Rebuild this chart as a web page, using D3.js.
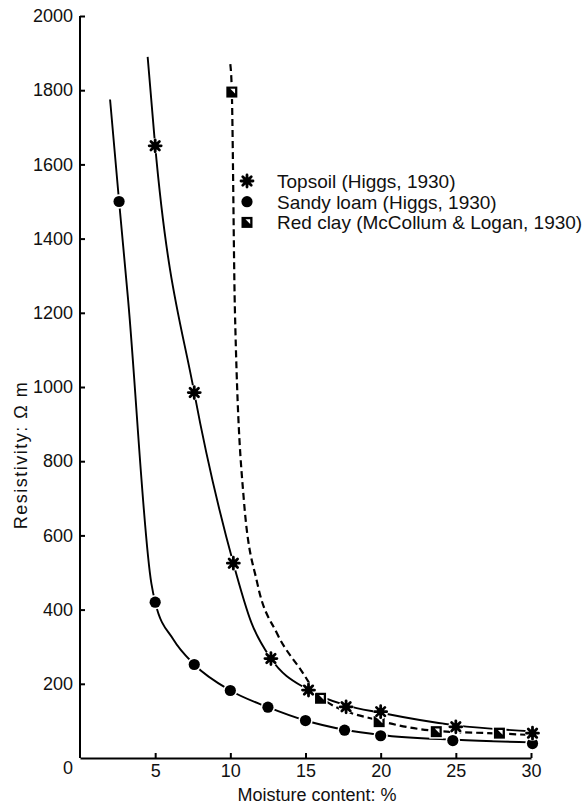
<!DOCTYPE html>
<html>
<head>
<meta charset="utf-8">
<script src="https://cdn.jsdelivr.net/npm/d3@7"></script>
<style>
  html, body { margin: 0; padding: 0; background: #fff; }
  svg { display: block; font-family: "Liberation Sans", Arial, Helvetica, sans-serif; }
</style>
</head>
<body>
<svg id="chart" width="586" height="805"></svg>
<script>
// Measured points: [moisture %, resistivity Ω m]
const topsoil   = [[5,1650],[7.6,985],[10.2,525],[12.7,268],[15.2,183],[17.7,138],[20,125],[25,84],[30.1,67]];
const sandyLoam = [[2.6,1500],[5,420],[7.6,252],[10,182],[12.5,137],[15,101],[17.6,75],[20,60],[24.8,47],[30.1,39]];
const redClay   = [[10.1,1795],[16,161],[19.9,98],[23.7,71],[27.9,67]];

// Fitted curves drawn through the measurements (knots as plotted)
const topsoilCurve   = [[4.5,1890],[5,1650],[7.6,985],[10.2,525],[11.4,365],[12.7,268],[15.2,183],[17.7,142],[20,122],[25,88],[30,72]];
const sandyLoamCurve = [[2.0,1775],[2.6,1500],[3.2,1235],[4.75,470],[5,420],[6.2,320],[7.6,252],[10,182],[12.5,137],[15,101],[17.6,76],[20,62],[25,49],[30,42]];
const redClayCurve   = [[10.0,1870],[10.1,1795],[10.3,1215],[10.9,695],[11.8,470],[13.1,336],[14.7,237],[16,163],[20,100],[23.7,73],[27.9,66],[30,62]];

const xTicks = [5,10,15,20,25,30];
const yTicks = [200,400,600,800,1000,1200,1400,1600,1800,2000];

const legendItems = [
  { label: "Topsoil (Higgs, 1930)", symbol: "star" },
  { label: "Sandy loam (Higgs, 1930)", symbol: "dot" },
  { label: "Red clay (McCollum & Logan, 1930)", symbol: "square" }
];

const svg = d3.select("#chart");
const x = d3.scaleLinear().domain([0, 30]).range([80, 531]);
const y = d3.scaleLinear().domain([0, 2000]).range([758, 16]);

// Axes with inward ticks
const xAxis = d3.axisBottom(x).tickValues(xTicks).tickFormat(d3.format("d"))
  .tickSize(-5).tickSizeOuter(0).tickPadding(6);
const yAxis = d3.axisLeft(y).tickValues(yTicks).tickFormat(d3.format("d"))
  .tickSize(-5).tickSizeOuter(0).tickPadding(7);

const gx = svg.append("g").attr("transform", `translate(0,${y(0)})`).call(xAxis);
const gy = svg.append("g").attr("transform", `translate(${x(0)},0)`).call(yAxis);
[gx, gy].forEach(g => {
  g.select(".domain").attr("stroke", "#000").attr("stroke-width", 2);
  g.selectAll(".tick line").attr("stroke", "#000").attr("stroke-width", 2);
  g.selectAll(".tick text").attr("fill", "#111").attr("font-size", 18)
    .attr("font-family", "Liberation Sans, Arial, sans-serif");
});
// y axis runs up to the 2000 tick
gy.select(".domain").attr("d", `M0,${y(0)}V${y(2000)}`);

// shared origin label
svg.append("text").attr("x", x(0) - 12).attr("y", y(0) + 16)
  .attr("text-anchor", "middle").attr("font-size", 18).attr("fill", "#111").text("0");

// axis titles
svg.append("text").attr("x", 317).attr("y", 801).attr("text-anchor", "middle")
  .attr("font-size", 18).attr("fill", "#111").text("Moisture content: %");
svg.append("text").attr("transform", "translate(27,455) rotate(-90)")
  .attr("text-anchor", "middle").attr("font-size", 18).attr("letter-spacing", 1.5)
  .attr("fill", "#111").text("Resistivity: \u03A9 m");

// curves
const line = d3.line().x(d => x(d[0])).y(d => y(d[1])).curve(d3.curveMonotoneX);
svg.append("path").datum(sandyLoamCurve).attr("d", line)
  .attr("fill", "none").attr("stroke", "#000").attr("stroke-width", 1.9);
svg.append("path").datum(topsoilCurve).attr("d", line)
  .attr("fill", "none").attr("stroke", "#000").attr("stroke-width", 1.9);
svg.append("path").datum(redClayCurve).attr("d", line)
  .attr("fill", "none").attr("stroke", "#000").attr("stroke-width", 2.2)
  .attr("stroke-dasharray", "7,4");

// marker drawing
const starPath = (() => {
  const r = 6, p = d3.path();
  for (let i = 0; i < 4; i++) {
    const a = i * Math.PI / 4;
    p.moveTo(-r * Math.cos(a), -r * Math.sin(a));
    p.lineTo(r * Math.cos(a), r * Math.sin(a));
  }
  return p.toString();
})();

function drawMarker(g, symbol) {
  if (symbol === "star") {
    g.append("circle").attr("r", 7.5).attr("fill", "#fff");
    g.append("path").attr("d", starPath).attr("stroke", "#000").attr("stroke-width", 2.8)
      .attr("stroke-linecap", "round");
    g.append("circle").attr("r", 3.6).attr("fill", "#000");
  } else if (symbol === "dot") {
    g.append("circle").attr("r", 7.2).attr("fill", "#fff");
    g.append("circle").attr("r", 5.6).attr("fill", "#000");
  } else {
    g.append("rect").attr("x", -7).attr("y", -7).attr("width", 14).attr("height", 14).attr("fill", "#fff");
    g.append("rect").attr("x", -5.5).attr("y", -5.5).attr("width", 11).attr("height", 11)
      .attr("fill", "#000");
    g.append("polygon").attr("points", "-1.5,-3.2 3.2,-3.2 3.2,1.5").attr("fill", "#fff");
  }
}

const series = [
  { data: sandyLoam, symbol: "dot" },
  { data: redClay, symbol: "square" },
  { data: topsoil, symbol: "star" }
];
series.forEach(s => {
  svg.append("g").selectAll("g").data(s.data).join("g")
    .attr("transform", d => `translate(${x(d[0])},${y(d[1])})`)
    .each(function () { drawMarker(d3.select(this), s.symbol); });
});

// legend
const legend = svg.append("g").attr("transform", "translate(247,181)");
legendItems.forEach((item, i) => {
  const row = legend.append("g").attr("transform", `translate(0,${i * 20.7})`);
  drawMarker(row, item.symbol);
  row.append("text").attr("x", 30).attr("y", 6.8).attr("font-size", 19)
    .attr("fill", "#111").text(item.label);
});
</script>
</body>
</html>
